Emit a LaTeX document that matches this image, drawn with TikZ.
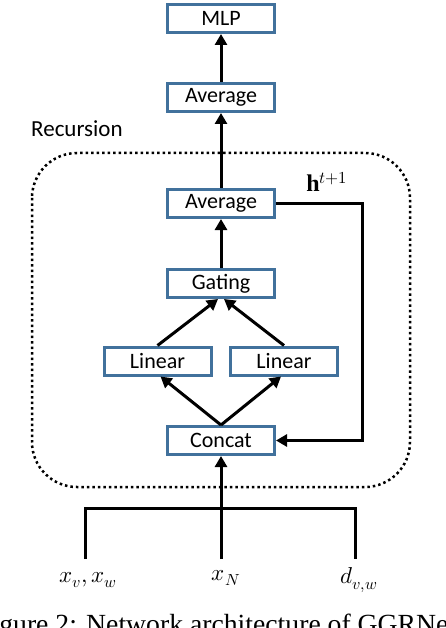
\documentclass[tikz,border=0pt]{standalone}
\usepackage{fontspec}
\setmainfont{Liberation Serif}
\newfontfamily\boxfont{Carlito}
\usepackage{unicode-math}
\setmathfont{Latin Modern Math}
\usetikzlibrary{arrows.meta}
\definecolor{boxblue}{HTML}{41719C}
\tikzset{
  blk/.style={draw=boxblue, line width=3pt, minimum width=107pt, minimum height=28pt, inner sep=0pt, font=\boxfont\fontsize{22}{24}\selectfont},
  conn/.style={line width=3pt, -{Triangle[length=11pt,width=12pt]}},
  plain/.style={line width=3pt},
}
\begin{document}
\begin{tikzpicture}[x=1pt,y=-1pt]
\useasboundingbox (0,0) rectangle (446,628);
% dotted recursion box
\draw[line width=2.5pt, dash pattern=on 2.5pt off 3pt, rounded corners=45pt] (32,153) rectangle (410,487);
\node[font=\boxfont\fontsize{23}{25}\selectfont, anchor=west, inner sep=0pt] (rec) at (31,129) {Recursion};
% blocks
\node[blk] (mlp) at (221,18.5) {MLP};
\node[blk] (avg2) at (221,97.5) {Average};
\node[blk] (avg1) at (221,203.5) {Average};
\node[blk] (gate) at (221,283.5) {Gating};
\node[blk] (linL) at (157.5,361) {Linear};
\node[blk] (linR) at (284,361) {Linear};
\node[blk] (cat) at (221,440.5) {Concat};
% arrows
\draw[conn] (avg2) -- (mlp);
\draw[conn] (avg1) -- (avg2);
\draw[conn] (gate) -- (avg1);
\draw[conn] (linL.north) -- ([xshift=-3pt]gate.south);
\draw[conn] (linR.north) -- ([xshift=3pt]gate.south);
\draw[conn] (cat.north) -- ([xshift=3pt]linL.south);
\draw[conn] (cat.north) -- ([xshift=-3pt]linR.south);
% feedback
\coordinate (fb1) at (362,203.5);
\coordinate (fb2) at (362,440.5);
\draw[conn] (avg1.east) -- (fb1) -- (fb2) -- (cat.east);
\node[font=\fontsize{24}{26}\selectfont] (h) at (327,182) {$\mathbf{h}^{t+1}$};
% inputs
\node[font=\fontsize{23}{25}\selectfont] (inA) at (88,580) {$x_v, x_w$};
\node[font=\fontsize{23}{25}\selectfont] (inB) at (226,578) {$x_N$};
\node[font=\fontsize{23}{25}\selectfont] (inC) at (359,580) {$d_{v,w}$};
\coordinate (jA) at (85,508);
\coordinate (jB) at (221,508);
\coordinate (jC) at (355,508);
\coordinate (eA) at (85,559);
\coordinate (eB) at (221,559);
\coordinate (eC) at (355,559);
\draw[plain] (eA) -- (jA) -- (jC) -- (eC);
\draw[conn] (eB) -- (cat.south);
% caption (cut off at the page edge, as in the reference)
\node[font=\fontsize{27.7}{30}\selectfont, anchor=base west, inner sep=0pt] (cap) at (-24,633.5) {Figure 2: Network architecture of GGRNet.};
\end{tikzpicture}
\end{document}
